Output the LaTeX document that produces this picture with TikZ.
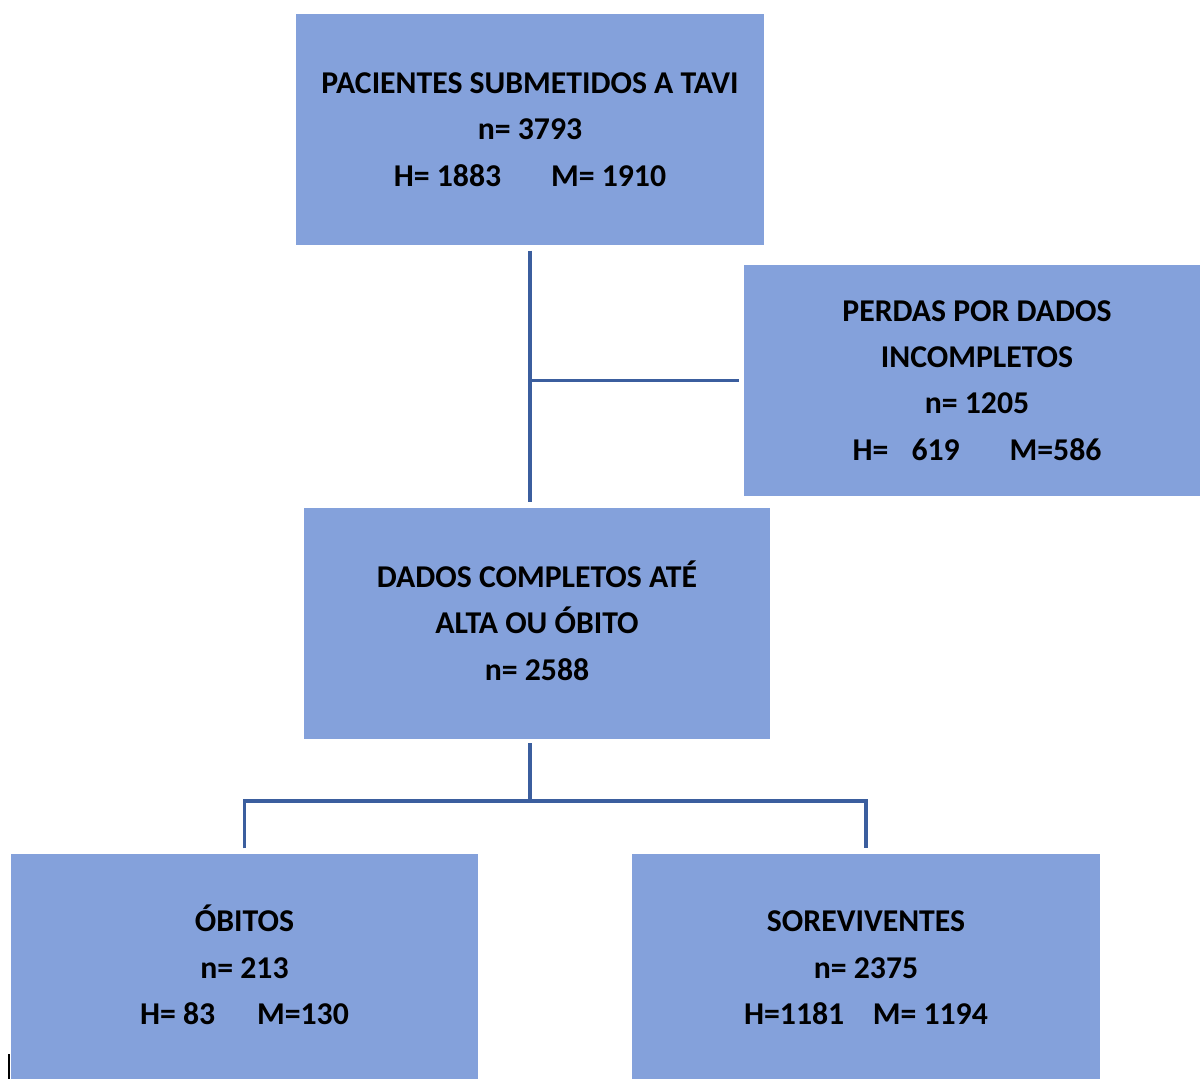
\documentclass[tikz,border=0pt]{standalone}
\usepackage{fontspec}
\setmainfont{Carlito}
\usepackage{tikz}
\usetikzlibrary{calc}
\definecolor{boxblue}{RGB}{132,161,219}
\definecolor{linkblue}{RGB}{59,94,158}

\begin{document}
\begin{tikzpicture}[x=0.375pt,y=-0.375pt,
	stage/.style={rectangle,fill=boxblue,inner sep=0pt,align=center,font=\fontsize{11.9}{17.4}\selectfont\bfseries,minimum height=86.6pt},
	link/.style={draw=linkblue,line width=1.3pt}]
	\useasboundingbox (0,0) rectangle (1200,1079);
	\node [stage,minimum width=175.5pt] (all) at (530,129.5) {PACIENTES SUBMETIDOS A TAVI\\n= 3793\\H= 1883\hspace{16pt} M= 1910};
	\node [stage,minimum width=174.8pt] (lost) at (977,380.5) {PERDAS POR DADOS\\INCOMPLETOS\\n= 1205\\H=\hspace{6pt} 619\hspace{16pt} M=586};
	\node [stage,minimum width=174.8pt] (full) at (537,623.5) {\smash{DADOS COMPLETOS ATÉ}\vphantom{D}\\ALTA OU ÓBITO\\n= 2588};
	\node [stage,minimum width=175.1pt,minimum height=85.5pt] (dead) at (244.5,968) {\smash{ÓBITOS}\vphantom{B}\\n= 213\\H= 83\hspace{13pt} M=130};
	\node [stage,minimum width=175.5pt,minimum height=85.5pt] (alive) at (866,968) {SOREVIVENTES\\n= 2375\\H=1181\hspace{8pt} M= 1194};
	\coordinate (split) at (530,801);
	\draw [link] ([yshift=-1.9pt]all.south) -- ([yshift=1.9pt]all.south |- full.north);
	\draw [link] (all.south |- lost.west) -- ([xshift=-1.5pt]lost.west);
	\draw [link] ([yshift=-1.5pt]full.south -| all.south) -- (split);
	\draw [link] ([yshift=1.9pt]dead.north) |- (split) -| ([yshift=1.9pt]alive.north);
	\draw [line width=0.8pt] (9,1054) -- (9,1079);
\end{tikzpicture}
\end{document}
